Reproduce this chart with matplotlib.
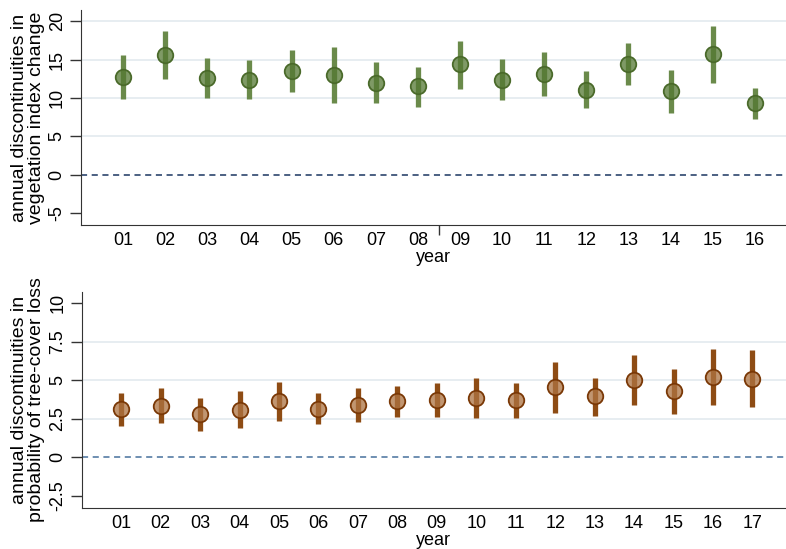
import numpy as np
import matplotlib.pyplot as plt

plt.rcParams['font.family'] = ['Liberation Sans', 'DejaVu Sans']
plt.rcParams['axes.unicode_minus'] = False

# vegetation index change, years 01-16
veg_years = ['01', '02', '03', '04', '05', '06', '07', '08',
             '09', '10', '11', '12', '13', '14', '15', '16']
veg_est = [12.7, 15.6, 12.6, 12.4, 13.5, 13.0, 12.0, 11.5,
           14.4, 12.4, 13.1, 11.1, 14.4, 10.9, 15.7, 9.3]
veg_hi = [15.6, 18.7, 15.2, 15.0, 16.2, 16.7, 14.7, 14.1,
          17.5, 15.1, 16.0, 13.5, 17.2, 13.7, 19.4, 11.35]
veg_lo = [9.9, 12.5, 10.0, 9.8, 10.8, 9.35, 9.3, 8.8,
          11.2, 9.7, 10.2, 8.7, 11.65, 8.05, 12.0, 7.2]
veg_yticks = [-5, 0, 5, 10, 15, 20]
veg_ylabels = ['-5', '0', '5', '10', '15', '20']

# probability of tree-cover loss, years 01-17
loss_years = ['01', '02', '03', '04', '05', '06', '07', '08', '09',
              '10', '11', '12', '13', '14', '15', '16', '17']
loss_est = [3.1, 3.33, 2.77, 3.07, 3.64, 3.14, 3.35, 3.64, 3.72,
            3.85, 3.68, 4.55, 3.94, 5.02, 4.29, 5.22, 5.09]
loss_hi = [4.18, 4.48, 3.83, 4.29, 4.89, 4.13, 4.46, 4.63, 4.83,
           5.13, 4.83, 6.19, 5.15, 6.62, 5.71, 7.01, 6.93]
loss_lo = [2.0, 2.2, 1.71, 1.86, 2.34, 2.12, 2.25, 2.6, 2.58,
           2.55, 2.53, 2.88, 2.68, 3.38, 2.81, 3.4, 3.23]
loss_yticks = [-2.5, 0, 2.5, 5, 7.5, 10]
loss_ylabels = ['-2.5', '0', '2.5', '5', '7.5', '10']

fig = plt.figure(figsize=(7.86, 5.49), dpi=100)
ax1 = fig.add_axes([0.103, 0.590, 0.897, 0.392])
ax2 = fig.add_axes([0.104, 0.075, 0.896, 0.393])


def draw_panel(ax, labels, est, lo, hi, yticks, ylabels, ylim, xmax,
               line_col, fill_col, edge_col, zero_col, grid_vals, ylabel):
    x = np.arange(1, len(labels) + 1)
    for g in grid_vals:
        ax.axhline(g, color='#e3eaef', lw=1.2, zorder=0)
    ax.axhline(0, color=zero_col, lw=1.1, ls=(0, (4, 3)), zorder=1)
    ax.vlines(x, lo, hi, color=line_col, lw=3.8, zorder=2)
    ax.scatter(x, est, s=125, facecolor=fill_col, edgecolor=edge_col,
               linewidth=1.3, zorder=3)
    ax.set_xlim(0, xmax)
    ax.set_ylim(*ylim)
    ax.set_yticks(yticks)
    ax.set_yticklabels(ylabels, rotation=90, va='center', fontsize=13)
    ax.tick_params(axis='y', length=8, width=1, pad=3, color='#333333')
    ax.set_xticks(x)
    ax.set_xticklabels(labels, fontsize=13)
    ax.tick_params(axis='x', length=0, pad=5)
    # single tick under the axis title
    ax.set_xticks([(len(labels) + 1) / 2], minor=True)
    ax.tick_params(axis='x', which='minor', length=7, width=1, color='#333333')
    for s in ['top', 'right']:
        ax.spines[s].set_visible(False)
    for s in ['left', 'bottom']:
        ax.spines[s].set_color('#333333')
    ax.set_xlabel('year', fontsize=13, labelpad=0)
    ax.set_ylabel(ylabel, fontsize=14, labelpad=3, linespacing=1.0)


draw_panel(ax1, veg_years, veg_est, veg_lo, veg_hi, veg_yticks, veg_ylabels,
           (-6.6, 21.5), 16.74, '#6a8a4a', (0.33, 0.47, 0.20, 0.75),
           '#4a6a2a', '#1a3560', [5, 10, 15, 20],
           'annual discontinuities in\nvegetation index change')

draw_panel(ax2, loss_years, loss_est, loss_lo, loss_hi, loss_yticks,
           loss_ylabels, (-3.3, 10.71), 17.85, '#8e4c14',
           (0.68, 0.45, 0.26, 0.75), '#7a3806', '#46709c', [2.5, 5, 7.5],
           'annual discontinuities in\nprobability of tree-cover loss')

fig.savefig('out.png', dpi=100)
